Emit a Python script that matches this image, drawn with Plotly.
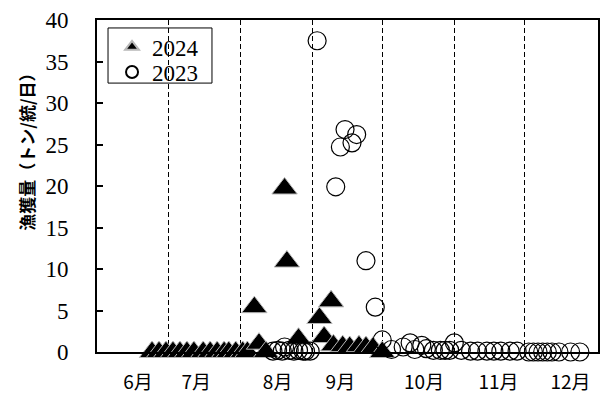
import plotly.graph_objects as go

# ---- data (month-day, value) ----
dates_2024 = ["06-24", "06-27", "06-30", "07-03", "07-06", "07-09", "07-12", "07-16",
              "07-19", "07-22", "07-25", "07-27", "07-30", "08-02", "08-04", "08-07",
              "08-09", "08-12", "08-20", "08-21", "08-26", "09-04", "09-06", "09-09",
              "09-10", "09-14", "09-17", "09-21", "09-24", "09-27", "10-01"]
catch_2024 = [0, 0, 0, 0, 0, 0, 0, 0,
              0, 0, 0, 0, 0, 0, 0, 5.4,
              1.0, 0, 19.7, 10.9, 1.6, 4.1, 1.8, 6.1,
              0.8, 0.7, 0.6, 0.7, 0.6, 0.5, 0]

dates_2023 = ["08-15", "08-17", "08-19", "08-20", "08-22", "08-24", "08-26", "08-28",
              "08-29", "08-31", "09-03", "09-11", "09-13", "09-15", "09-18", "09-20",
              "09-24", "09-28", "10-01", "10-05", "10-10", "10-13", "10-15", "10-18",
              "10-20", "10-23", "10-26", "10-28", "10-30", "11-01", "11-04", "11-08",
              "11-11", "11-15", "11-18", "11-21", "11-25", "11-28", "12-03", "12-05",
              "12-07", "12-09", "12-11", "12-13", "12-16", "12-21", "12-25"]
catch_2023 = [0.1, 0.2, 0.1, 0.6, 0.2, 0.1, 0.2, 0.1,
              0.1, 0.1, 37.5, 19.9, 24.7, 26.8, 25.2, 26.2,
              11.0, 5.4, 1.45, 0.3, 0.6, 1.1, 0.3, 0.8,
              0.4, 0.2, 0.2, 0.2, 0.2, 1.1, 0.2, 0.1,
              0.1, 0.1, 0.1, 0.1, 0.1, 0.1, 0, 0,
              0, 0, 0, 0, 0, 0, 0]

month_labels = ["6月", "7月", "8月", "9月", "10月", "11月", "12月"]
month_label_dates = ["06-18", "07-13", "08-17", "09-13", "10-19", "11-20", "12-21"]
month_starts = ["07-01", "08-01", "09-01", "10-01", "11-01", "12-01"]

BASE = "2024-"  # common calendar for overlaying both seasons


def on_axis(md_list):
    return [BASE + md for md in md_list]


fig = go.Figure()
fig.add_trace(go.Scatter(
    x=on_axis(dates_2024), y=catch_2024, mode="markers", name="2024",
    marker=dict(symbol="triangle-up", size=22, color="black",
                line=dict(color="#b8b8b8", width=1)),
    cliponaxis=False, legend="legend",
))
fig.add_trace(go.Scatter(
    x=on_axis(dates_2023), y=catch_2023, mode="markers", name="2023",
    marker=dict(symbol="circle-open", size=18, color="black",
                line=dict(color="black", width=1.2)),
    cliponaxis=False, legend="legend2",
))

legend_font = dict(family="Liberation Serif", size=23, color="black")
legend_common = dict(xanchor="left", yanchor="middle", borderwidth=0,
                     bgcolor="rgba(0,0,0,0)", font=legend_font,
                     itemsizing="constant")

fig.update_layout(
    width=602, height=394,
    margin=dict(l=97, r=4, t=20, b=42, autoexpand=False),
    paper_bgcolor="white", plot_bgcolor="white",
    showlegend=True,
    legend=dict(x=0.030, y=0.919, **legend_common),
    legend2=dict(x=0.030, y=0.843, **legend_common),
    shapes=[dict(type="rect", xref="paper", yref="paper",
                 x0=0.022, x1=0.2295, y0=0.810, y1=0.976,
                 line=dict(color="black", width=1), fillcolor="rgba(0,0,0,0)",
                 layer="above")],
    xaxis=dict(
        type="date", automargin=False,
        range=["2024-05-31 08:00", "2025-01-01 19:00"],
        tickmode="array",
        tickvals=on_axis(month_label_dates),
        ticktext=month_labels,
        ticks="", showgrid=False,
        showline=True, linecolor="black", linewidth=2, mirror=True,
        tickfont=dict(family="Noto Sans CJK JP", size=19, color="black"),
        ticklabelstandoff=12,
        zeroline=False,
        minor=dict(tickmode="array", tickvals=on_axis(month_starts),
                   showgrid=True, gridcolor="black", gridwidth=1,
                   griddash="5px,3px", ticks=""),
    ),
    yaxis=dict(
        range=[0, 40], dtick=5, tick0=0, automargin=False,
        ticks="inside", ticklen=6, tickwidth=2, tickcolor="black",
        showgrid=False, zeroline=False,
        showline=True, linecolor="black", linewidth=2, mirror=True,
        tickfont=dict(family="Liberation Serif", size=23, color="black"),
        ticklabelstandoff=22,
    ),
    annotations=[dict(
        text="<b>漁獲量（トン/統/日）</b>",
        xref="paper", yref="paper", x=-0.14, y=0.615,
        xanchor="center", yanchor="middle", textangle=-90, showarrow=False,
        font=dict(family="Noto Sans CJK JP", size=17, color="black"),
    )],
)

fig.write_html("out.html",
               config={"displayModeBar": False},
               post_script="document.body.style.margin='0';")
